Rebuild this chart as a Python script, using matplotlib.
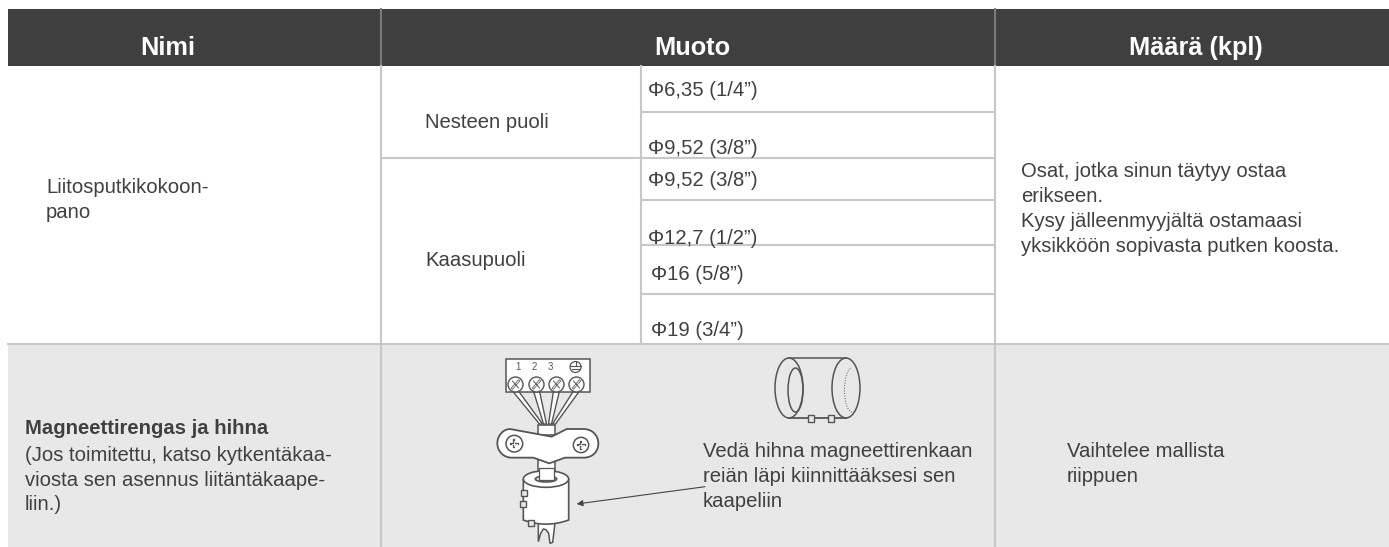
import matplotlib
matplotlib.use("Agg")
import matplotlib.pyplot as plt
from matplotlib.patches import Rectangle, Ellipse, PathPatch, Circle, Arc
from matplotlib.path import Path

plt.rcParams["font.family"] = ["Liberation Sans", "DejaVu Sans"]

W, H = 1389, 547
DARK = "#3f3f3f"
TEXT = "#404040"
GRID = "#c8c8c8"
BAND = "#e8e8e8"

headers = ["Nimi", "Muoto", "Määrä (kpl)"]
header_x = [168, 692, 1196]
sides = ["Nesteen puoli", "Kaasupuoli"]
sides_y = [122, 261]
sizes = ["Φ6,35 (1/4”)", "Φ9,52 (3/8”)", "Φ9,52 (3/8”)", "Φ12,7 (1/2”)", "Φ16 (5/8”)", "Φ19 (3/4”)"]
sizes_x = [648, 648, 648, 648, 651, 651]
sizes_y = [90, 148, 180, 238, 274, 330]
row_lines = [112, 158, 200, 245, 294]
name_text = "Liitosputkikokoon-\npano"
note_text = "Osat, jotka sinun täytyy ostaa\nerikseen.\nKysy jälleenmyyjältä ostamaasi\nyksikköön sopivasta putken koosta."
magnet_title = "Magneettirengas ja hihna"
magnet_text = "(Jos toimitettu, katso kytkentäkaa-\nviosta sen asennus liitäntäkaape-\nliin.)"
strap_note = "Vedä hihna magneettirenkaan\nreiän läpi kiinnittääksesi sen\nkaapeliin"
vary_text = "Vaihtelee mallista\nriippuen"

fig = plt.figure(figsize=(W / 100, H / 100), dpi=100)
ax = fig.add_axes([0, 0, 1, 1])
ax.set_xlim(0, W)
ax.set_ylim(H, 0)
ax.axis("off")

# table background
ax.add_patch(Rectangle((8, 9), 1381, 57, fc=DARK, ec="none"))
ax.add_patch(Rectangle((8, 344), 1381, 203, fc=BAND, ec="none"))
ax.plot([8, 1389], [344, 344], color=GRID, lw=1.5)
for x in [381, 995]:
    ax.plot([x, x], [9, 66], color="#7a7a7a", lw=1.5)
    ax.plot([x, x], [66, 547], color=GRID, lw=1.5)
ax.plot([641, 641], [66, 344], color=GRID, lw=1.5)
for y in row_lines:
    ax.plot([381 if y == 158 else 641, 995], [y, y], color=GRID, lw=1.5)

for name, x in zip(headers, header_x):
    ax.text(x, 55, name, color="white", fontsize=18.3, fontweight="bold", ha="center", va="baseline")

fs = 14.6
ls = 1.39
for s, y in zip(sides, sides_y):
    ax.text(425, y, s, color=TEXT, fontsize=fs, va="center")
for s, x, y in zip(sizes, sizes_x, sizes_y):
    ax.text(x, y, s, color=TEXT, fontsize=fs, va="center")
ax.text(46, 200, name_text, color=TEXT, fontsize=fs, va="center", linespacing=ls)
ax.text(1021, 209, note_text, color=TEXT, fontsize=fs, va="center", linespacing=ls)
ax.text(25, 429, magnet_title, color=TEXT, fontsize=fs, fontweight="bold", va="center")
ax.text(25, 480, magnet_text, color=TEXT, fontsize=fs, va="center", linespacing=ls)
ax.text(703, 476.5, strap_note, color=TEXT, fontsize=fs, va="center", linespacing=ls)
ax.text(1067, 464, vary_text, color=TEXT, fontsize=fs, va="center", linespacing=ls)

# wiring sketch, local coordinates are pixels of a 3x crop
LC = "#555555"
def px(a, b):
    return 440 + a / 3, 405 + b / 3

def curve(points, closed=False, fc="none", lw=1.1, color=LC, z=3):
    verts = [px(*p) for p in points]
    codes = [Path.MOVETO] + [Path.LINETO] * (len(verts) - 1)
    if closed:
        verts.append(verts[0])
        codes.append(Path.CLOSEPOLY)
    ax.add_patch(PathPatch(Path(verts, codes), fc=fc, ec=color, lw=lw, zorder=z))

# terminal block
ax.add_patch(Rectangle((506, 359), 84, 33, fc="white", ec=LC, lw=1.1, zorder=3))
for x, lab in zip([518, 534, 550], ["1", "2", "3"]):
    ax.text(x, 367, lab, color=LC, fontsize=7, ha="center", va="center", zorder=4)
ax.add_patch(Circle((575.5, 367), 5.5, fc="none", ec=LC, lw=0.9, zorder=4))
ax.plot([570, 581], [366, 366], color=LC, lw=0.8, zorder=4)
ax.plot([572, 579], [369, 369], color=LC, lw=0.8, zorder=4)
ax.plot([575.5, 575.5], [362, 366], color=LC, lw=0.8, zorder=4)
screw_x = [515.5, 536.5, 556.5, 576.5]
for x in screw_x:
    ax.add_patch(Circle((x, 384.5), 7.5, fc="white", ec=LC, lw=1, zorder=4))
    ax.plot([x - 3, x + 3], [388, 381], color=LC, lw=1.8, zorder=5)
    ax.plot([x - 3, x + 3], [388, 381], color="white", lw=0.7, zorder=5)
    ax.plot([x - 3, x + 3], [381, 388], color=LC, lw=0.7, zorder=5)

# wires
for x0, x1 in zip(screw_x, [541, 545, 550, 554]):
    ax.fill([x0 - 3, x0 + 3, x1 + 1.5, x1 - 1.5], [391, 391, 424, 424], fc="white", ec=LC, lw=1, zorder=2)

# strap
strap_verts = [(210, 72), (335, 95), (380, 72), (430, 72), (460, 72), (475, 95), (475, 115),
               (475, 138), (460, 158), (430, 158), (375, 158), (328, 175), (280, 158), (215, 158),
               (190, 158), (172, 138), (172, 115), (172, 92), (190, 72), (210, 72)]
strap_codes = [Path.MOVETO, Path.LINETO, Path.LINETO, Path.LINETO, Path.CURVE4, Path.CURVE4, Path.CURVE4,
               Path.CURVE4, Path.CURVE4, Path.CURVE4, Path.LINETO, Path.LINETO, Path.LINETO, Path.LINETO,
               Path.CURVE4, Path.CURVE4, Path.CURVE4, Path.CURVE4, Path.CURVE4, Path.CURVE4]
curve([(295, 60), (345, 60), (345, 90), (295, 90)], closed=True, fc="white", z=3)
ax.add_patch(PathPatch(Path([px(*p) for p in strap_verts], strap_codes), fc="white", ec=LC, lw=1.3, zorder=4))
for a, b, r in [(223, 116, 25), (423, 120, 23)]:
    x, y = px(a, b)
    ax.add_patch(Circle((x, y), r / 3, fc="white", ec=LC, lw=1.1, zorder=5))
    ax.plot([x - 3.5, x + 3.5], [y, y], color=LC, lw=1.6, zorder=6)
    ax.plot([x, x], [y - 3.5, y + 3.5], color=LC, lw=1.6, zorder=6)
    ax.plot([x - 2.5, x + 2.5], [y, y], color="white", lw=0.6, zorder=7)
    ax.plot([x, x], [y - 2.5, y + 2.5], color="white", lw=0.6, zorder=7)

# cable and ring
curve([(295, 165), (345, 165), (345, 230), (295, 230)], closed=True, fc="white", z=2)
x, y = px(318, 222)
ring_verts = [px(250, 222), px(250, 345), px(318, 370), px(386, 345), px(386, 222)]
ring_codes = [Path.MOVETO, Path.LINETO, Path.CURVE3, Path.CURVE3, Path.LINETO]
ax.add_patch(PathPatch(Path(ring_verts, ring_codes), fc="white", ec=LC, lw=1.2, zorder=3))
ax.add_patch(Ellipse((x, y), 136 / 3, 50 / 3, fc="white", ec=LC, lw=1.2, zorder=4))
ax.add_patch(Ellipse((x, y), 64 / 3, 18 / 3, fc=BAND, ec=LC, lw=1.2, zorder=5))
curve([(297, 190), (343, 190), (343, 224), (297, 224)], closed=True, fc="white", z=5, lw=0.9)
for a, b in [(251, 265), (250, 296), (272, 355)]:
    x, y = px(a, b)
    ax.add_patch(Rectangle((x - 3, y - 3), 6, 6, fc=BAND, ec=LC, lw=1, zorder=6))
tail_verts = [(295, 354), (295, 410), (302, 385), (310, 372), (318, 374), (326, 385), (330, 415), (338, 412), (345, 354)]
curve(tail_verts, lw=1.1, z=2, fc="white")

# arrow to the ring
ax.annotate("", xy=px(410, 297), xytext=(705, 486.7),
            arrowprops=dict(arrowstyle="-|>", color="#444444", lw=0.8, mutation_scale=9, shrinkA=0, shrinkB=0), zorder=6)

# loose ring sketch
ax.add_patch(Ellipse((846, 388), 28, 60, fc="none", ec=LC, lw=1.1, zorder=3))
ax.add_patch(Ellipse((789, 388), 28, 60, fc="none", ec=LC, lw=1.1, zorder=3))
ax.add_patch(Ellipse((795.5, 390), 15, 44, fc="none", ec=LC, lw=1.1, zorder=3))
ax.add_patch(Arc((852, 390), 15, 44, theta1=90, theta2=270, color=LC, lw=0.7, ls=":", zorder=3))
ax.plot([789, 846], [358, 358], color=LC, lw=1.1, zorder=3)
ax.plot([789, 846], [418, 418], color=LC, lw=1.3, zorder=3)
for x in [811, 831]:
    ax.add_patch(Rectangle((x - 3, 414.5), 6, 7.5, fc=BAND, ec=LC, lw=1, zorder=4))

fig.savefig("out.png", dpi=100)
